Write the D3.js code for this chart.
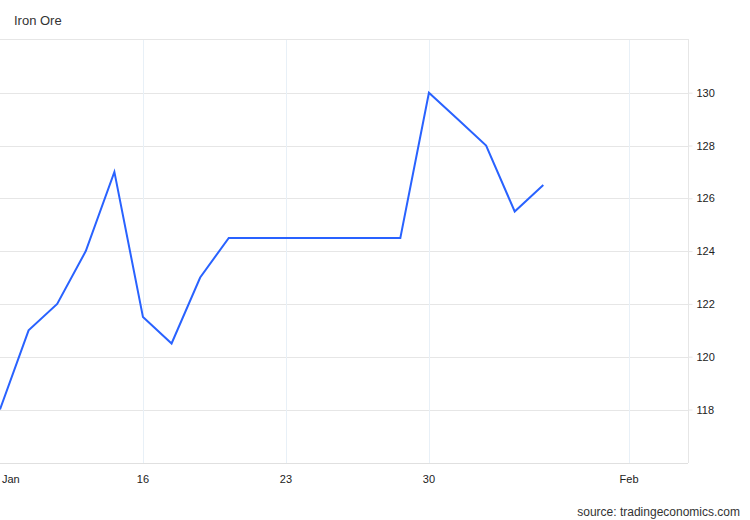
<!DOCTYPE html>
<html>
<head>
<meta charset="utf-8">
<script src="https://cdn.jsdelivr.net/npm/d3@7"></script>
<style>
  body { margin: 0; background: #fff; }
  text { font-family: "Liberation Sans", Arial, sans-serif; }
</style>
</head>
<body>
<div class="chart"></div>
<script>
const width = 750;
const height = 520;

// trading-day index of each observation
const days = [0, 1, 2, 3, 4, 5, 6, 7, 8, 9, 10, 11, 12, 13, 14, 15, 16, 17, 18, 19];
const prices = [118, 121, 122, 124, 127, 121.5, 120.5, 123, 124.5, 124.5, 124.5, 124.5,
  124.5, 124.5, 124.5, 130, 129, 128, 125.5, 126.5];
const xTickPos = [0, 5, 10, 15, 22];
const xTickLabels = ['Jan', '16', '23', '30', 'Feb'];
const yTicks = [118, 120, 122, 124, 126, 128, 130];

const plot = { left: 0, right: 688, top: 39, bottom: 463 };

const x = d3.scaleLinear().domain([0, 24.06]).range([plot.left, plot.right]);
const y = d3.scaleLinear().domain([118, 130]).range([409.5, 92.7]);

const svg = d3
  .select('.chart')
  .append('svg')
  .attr('width', width)
  .attr('height', height);

svg.append('text')
  .attr('x', 14)
  .attr('y', 25)
  .attr('font-size', 13)
  .attr('fill', '#333')
  .text('Iron Ore');

// horizontal grid
svg.append('g')
  .selectAll('line')
  .data(yTicks)
  .enter()
  .append('line')
  .attr('x1', plot.left)
  .attr('x2', plot.right)
  .attr('y1', d => Math.round(y(d)) + 0.5)
  .attr('y2', d => Math.round(y(d)) + 0.5)
  .attr('stroke', '#e6e6e6');

// vertical grid
svg.append('g')
  .selectAll('line')
  .data(xTickPos.slice(1))
  .enter()
  .append('line')
  .attr('x1', d => Math.round(x(d)) + 0.5)
  .attr('x2', d => Math.round(x(d)) + 0.5)
  .attr('y1', plot.top)
  .attr('y2', plot.bottom)
  .attr('stroke', '#e8f0f7');

// frame: top line, right axis, bottom axis
svg.append('line')
  .attr('x1', plot.left).attr('x2', plot.right)
  .attr('y1', plot.top + 0.5).attr('y2', plot.top + 0.5)
  .attr('stroke', '#e6e6e6');
svg.append('line')
  .attr('x1', plot.left).attr('x2', plot.right)
  .attr('y1', plot.bottom + 0.5).attr('y2', plot.bottom + 0.5)
  .attr('stroke', '#e0e0e0');

const yAxis = d3.axisRight(y)
  .tickValues(yTicks)
  .tickSize(4)
  .tickPadding(4);
const yg = svg.append('g')
  .attr('transform', `translate(${plot.right + 0.5},0)`)
  .call(yAxis);
yg.select('.domain').remove();
yg.append('line')
  .attr('y1', plot.top).attr('y2', plot.bottom)
  .attr('stroke', '#e6e6e6');
yg.selectAll('.tick line').attr('stroke', '#e6e6e6');
yg.selectAll('.tick text')
  .attr('fill', '#222')
  .attr('font-size', 11)
  .style('font-family', '"Liberation Sans", Arial, sans-serif');

// x labels
svg.append('g')
  .selectAll('text')
  .data(xTickPos)
  .enter()
  .append('text')
  .attr('x', (d, i) => (i === 0 ? 2 : x(d)))
  .attr('y', 483)
  .attr('text-anchor', (d, i) => (i === 0 ? 'start' : 'middle'))
  .attr('font-size', 11)
  .attr('fill', '#222')
  .text((d, i) => xTickLabels[i]);

const line = d3.line()
  .x((d, i) => x(days[i]))
  .y(d => y(d));

svg.append('path')
  .datum(prices)
  .attr('d', line)
  .attr('fill', 'none')
  .attr('stroke', '#2962ff')
  .attr('stroke-width', 2)
  .attr('stroke-linejoin', 'miter');

svg.append('text')
  .attr('x', 740)
  .attr('y', 516)
  .attr('text-anchor', 'end')
  .attr('font-size', 12)
  .attr('fill', '#333')
  .text('source: tradingeconomics.com');
</script>
</body>
</html>
